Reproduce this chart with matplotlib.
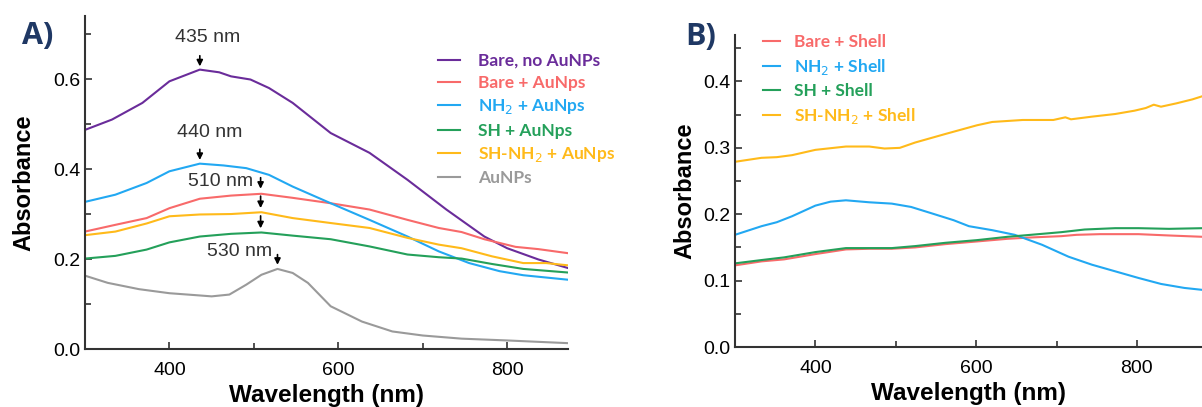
import matplotlib
matplotlib.use('Agg')
from matplotlib import pyplot as plt
from matplotlib.ticker import MultipleLocator

# ---- Panel A data (wavelength nm, absorbance) ----
bare_no_x = [300, 332, 368, 400, 436, 459, 473, 496, 518, 546, 591, 637, 682, 728, 773, 800, 837, 872]
bare_no_y = [0.487, 0.51, 0.547, 0.595, 0.621, 0.615, 0.606, 0.599, 0.58, 0.547, 0.48, 0.436, 0.376,
             0.31, 0.25, 0.224, 0.199, 0.18]

bare_au_x = [300, 336, 373, 400, 436, 473, 509, 546, 591, 637, 682, 719, 746, 773, 810, 837, 872]
bare_au_y = [0.261, 0.276, 0.291, 0.313, 0.334, 0.341, 0.345, 0.336, 0.324, 0.31, 0.287, 0.269,
             0.26, 0.244, 0.227, 0.222, 0.213]

nh2_au_x = [300, 336, 373, 400, 436, 464, 491, 518, 546, 591, 637, 682, 719, 755, 791, 819, 872]
nh2_au_y = [0.327, 0.343, 0.369, 0.395, 0.412, 0.408, 0.402, 0.387, 0.361, 0.324, 0.287, 0.25,
            0.217, 0.191, 0.173, 0.164, 0.154]

sh_au_x = [300, 336, 373, 400, 436, 473, 509, 546, 591, 637, 682, 719, 746, 782, 819, 872]
sh_au_y = [0.201, 0.207, 0.221, 0.237, 0.25, 0.256, 0.259, 0.252, 0.244, 0.228, 0.21, 0.204,
           0.201, 0.189, 0.178, 0.17]

shnh2_au_x = [300, 336, 373, 400, 436, 473, 509, 546, 591, 637, 682, 719, 746, 782, 819, 846, 872]
shnh2_au_y = [0.253, 0.261, 0.279, 0.295, 0.299, 0.3, 0.304, 0.291, 0.28, 0.269, 0.247, 0.232,
              0.224, 0.206, 0.191, 0.191, 0.186]

aunp_x = [300, 327, 364, 400, 436, 450, 471, 491, 509, 528, 546, 564, 591, 628, 664, 700, 746, 800, 872]
aunp_y = [0.163, 0.147, 0.133, 0.124, 0.119, 0.117, 0.121, 0.143, 0.165, 0.178, 0.169, 0.147,
          0.095, 0.061, 0.039, 0.03, 0.023, 0.019, 0.013]

# ---- Panel B data ----
bare_sh_x = [300, 333, 361, 400, 438, 467, 495, 524, 562, 601, 639, 668, 706, 725, 754, 802, 840, 882]
bare_sh_y = [0.123, 0.129, 0.132, 0.14, 0.147, 0.148, 0.148, 0.15, 0.155, 0.159, 0.163, 0.165,
             0.167, 0.169, 0.17, 0.17, 0.168, 0.166]

nh2_sh_x = [300, 333, 352, 371, 400, 419, 438, 467, 495, 519, 543, 572, 591, 620, 648, 682, 715,
            744, 773, 802, 830, 859, 882]
nh2_sh_y = [0.169, 0.182, 0.188, 0.197, 0.213, 0.219, 0.221, 0.218, 0.216, 0.211, 0.202, 0.191,
            0.182, 0.176, 0.169, 0.154, 0.136, 0.124, 0.114, 0.104, 0.095, 0.089, 0.086]

sh_sh_x = [300, 333, 361, 400, 438, 467, 495, 524, 562, 601, 639, 668, 706, 735, 773, 802, 840, 882]
sh_sh_y = [0.126, 0.131, 0.135, 0.143, 0.149, 0.149, 0.149, 0.152, 0.157, 0.161, 0.166, 0.169,
           0.173, 0.177, 0.179, 0.179, 0.178, 0.179]

shnh2_sh_x = [300, 333, 352, 371, 400, 438, 467, 486, 505, 524, 562, 601, 620, 658, 696, 711, 718,
              744, 773, 797, 811, 821, 830, 849, 869, 882]
shnh2_sh_y = [0.279, 0.285, 0.286, 0.289, 0.297, 0.302, 0.302, 0.299, 0.3, 0.308, 0.321, 0.334,
              0.339, 0.342, 0.342, 0.346, 0.343, 0.347, 0.351, 0.356, 0.36, 0.365, 0.362, 0.367,
              0.373, 0.378]

# peak annotations: (label, text x, text y, arrow x, arrow top, arrow bottom)
peaks = [('435 nm', 445, 0.693, 436, 0.658, 0.622),
         ('440 nm', 448, 0.482, 436, 0.450, 0.414),
         ('510 nm', 460, 0.372, 508, 0.387, 0.350),
         ('530 nm', 483, 0.216, 528, 0.216, 0.181)]
extra_arrows = [(508, 0.346, 0.307), (508, 0.302, 0.262)]

purple = '#6A2C9A'
red = '#F86A6A'
blue = '#22A8F2'
green = '#24A05A'
orange = '#FFBA1A'
gray = '#9A9A9A'
navy = '#1F3864'

plt.rcParams['font.family'] = ['Liberation Sans', 'DejaVu Sans']
legend_font = {'family': ['Lato', 'DejaVu Sans'], 'weight': 'bold', 'size': 12.5}

fig = plt.figure(figsize=(12.02, 4.07), dpi=100)
ax1 = fig.add_axes([0.0707, 0.1425, 0.4018, 0.818])
ax2 = fig.add_axes([0.6115, 0.1474, 0.3885, 0.7666])

lw = 1.5
ax1.plot(bare_no_x, bare_no_y, color=purple, lw=lw, label='Bare, no AuNPs')
ax1.plot(bare_au_x, bare_au_y, color=red, lw=lw, label='Bare + AuNps')
ax1.plot(nh2_au_x, nh2_au_y, color=blue, lw=lw, label='NH$_2$ + AuNps')
ax1.plot(sh_au_x, sh_au_y, color=green, lw=lw, label='SH + AuNps')
ax1.plot(shnh2_au_x, shnh2_au_y, color=orange, lw=lw, label='SH-NH$_2$ + AuNps')
ax1.plot(aunp_x, aunp_y, color=gray, lw=lw, label='AuNPs')

for label, tx, ty, axx, y0, y1 in peaks:
    ax1.text(tx, ty, label, ha='center', va='center', fontsize=14, color='#333333')
    ax1.annotate('', xy=(axx, y1), xytext=(axx, y0),
                 arrowprops=dict(arrowstyle='-|>', color='black', lw=1.2, mutation_scale=9))
for axx, y0, y1 in extra_arrows:
    ax1.annotate('', xy=(axx, y1), xytext=(axx, y0),
                 arrowprops=dict(arrowstyle='-|>', color='black', lw=1.2, mutation_scale=9))

ax1.set_xlim(300, 872)
ax1.set_ylim(0, 0.74)
ax1.yaxis.set_major_locator(MultipleLocator(0.2))
ax1.yaxis.set_minor_locator(MultipleLocator(0.1))
ax1.xaxis.set_major_locator(MultipleLocator(200))
ax1.xaxis.set_minor_locator(MultipleLocator(100))

ax2.plot(bare_sh_x, bare_sh_y, color=red, lw=lw, label='Bare + Shell')
ax2.plot(nh2_sh_x, nh2_sh_y, color=blue, lw=lw, label='NH$_2$ + Shell')
ax2.plot(sh_sh_x, sh_sh_y, color=green, lw=lw, label='SH + Shell')
ax2.plot(shnh2_sh_x, shnh2_sh_y, color=orange, lw=lw, label='SH-NH$_2$ + Shell')

ax2.set_xlim(300, 881)
ax2.set_ylim(0, 0.47)
ax2.yaxis.set_major_locator(MultipleLocator(0.1))
ax2.yaxis.set_minor_locator(MultipleLocator(0.05))
ax2.xaxis.set_major_locator(MultipleLocator(200))
ax2.xaxis.set_minor_locator(MultipleLocator(100))

for ax in (ax1, ax2):
    ax.spines['top'].set_visible(False)
    ax.spines['right'].set_visible(False)
    for s in ('left', 'bottom'):
        ax.spines[s].set_color('#333333')
        ax.spines[s].set_linewidth(1.5)
    ax.tick_params(which='major', direction='in', length=5, width=1.2, color='#333333',
                   labelsize=14)
    ax.tick_params(axis='x', which='major', pad=9)
    ax.tick_params(axis='y', which='major', pad=3)
    ax.tick_params(which='minor', direction='in', length=4, width=1.2, color='#333333')
    ax.yaxis.set_major_formatter(plt.FormatStrFormatter('%.1f'))

ax1.set_xlabel('Wavelength (nm)', fontsize=17.5, fontweight='bold', labelpad=4)
ax1.set_ylabel('Absorbance', fontsize=17, fontweight='bold', labelpad=13)
ax2.set_xlabel('Wavelength (nm)', fontsize=17.5, fontweight='bold', labelpad=4)
ax2.set_ylabel('Absorbance', fontsize=17, fontweight='bold', labelpad=5)

leg1 = ax1.legend(loc='upper left', bbox_to_anchor=(0.716, 0.91), frameon=False,
                  handlelength=1.3, handletextpad=1.0, labelspacing=0.36, borderaxespad=0,
                  prop=legend_font)
for txt, line in zip(leg1.get_texts(), leg1.get_lines()):
    txt.set_color(line.get_color())

leg2 = ax2.legend(loc='upper left', bbox_to_anchor=(0.045, 1.025), frameon=False,
                  handlelength=1.0, handletextpad=0.8, labelspacing=0.38, borderaxespad=0,
                  prop=legend_font)
for txt, line in zip(leg2.get_texts(), leg2.get_lines()):
    txt.set_color(line.get_color())

fig.text(0.018, 0.911, 'A)', fontsize=22, fontweight='bold', color=navy, va='center',
         family=['Open Sans', 'DejaVu Sans'])
fig.text(0.570, 0.909, 'B)', fontsize=22, fontweight='bold', color=navy, va='center',
         family=['Open Sans', 'DejaVu Sans'])

fig.savefig('out.png', dpi=100)
